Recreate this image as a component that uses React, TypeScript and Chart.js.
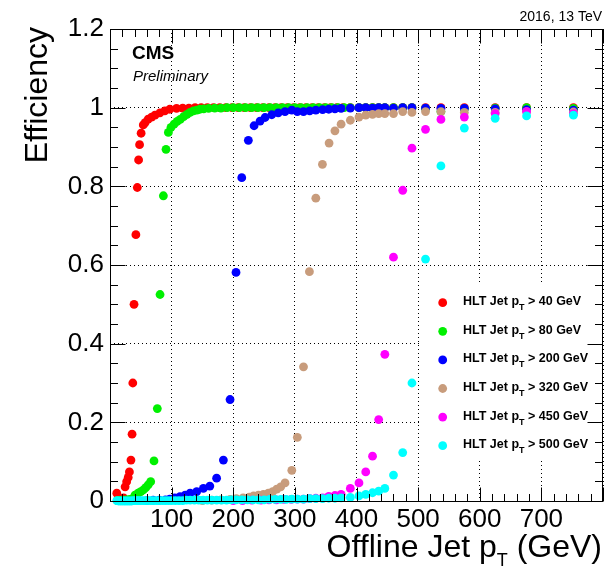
import { useEffect, useRef } from 'react';
import { Chart, registerables } from 'chart.js';

Chart.register(...registerables);

const FONT = "'Liberation Sans', Arial, Helvetica, sans-serif";

// Trigger thresholds (GeV) and marker colours, in drawing order
const THRESHOLDS = [40, 80, 200, 320, 450, 500];
const COLORS = ['#ff0000', '#00f000', '#0000ff', '#c89c7c', '#ff00ff', '#00ffff'];

// HLT Jet pT > 40 GeV
const RED_PT = [
  11, 15, 19, 22, 24.5, 27, 29.5, 31.5, 34, 35.8,
  37, 39, 42, 44.3, 46.4, 48, 50.5, 54, 57, 62,
  67.5, 73, 81, 89, 97, 108, 118, 128, 138, 148,
  158, 168, 178, 188, 198, 208, 218, 228, 238, 248,
  258, 268, 278, 288, 298, 308, 318, 328, 338, 348,
  358, 368, 378, 390, 404, 415, 426, 436, 446, 460,
  475, 490, 512, 537, 575, 625, 676, 752,
];
const RED_EFF = [
  0.02, 0.004, 0.005, 0.008, 0.036, 0.049, 0.06, 0.074, 0.104, 0.17,
  0.30, 0.50, 0.677, 0.797, 0.867, 0.906, 0.935, 0.956, 0.962, 0.971,
  0.976, 0.981, 0.987, 0.992, 0.996, 0.998, 0.999, 0.999, 1, 1,
  1, 1, 1, 1, 1, 1, 1, 1, 1, 1,
  1, 1, 1, 1, 1, 1, 1, 1, 1, 1,
  1, 1, 1, 1, 1, 1, 1, 1, 1, 1,
  1, 1, 1, 1, 1, 1, 1, 1,
];

// HLT Jet pT > 80 GeV
const GREEN_PT = [
  12, 17, 22, 27, 32, 36.5, 40.6, 45.5, 50, 54,
  58, 62, 66, 71.4, 76.8, 81.2, 86.6, 90.9, 94.7, 99,
  104, 109, 114, 119.5, 125, 130, 135.5, 141, 146, 152,
  160, 170, 180, 190, 200, 210, 220, 230, 240, 250,
  260, 270, 280, 290, 300, 310, 320, 330, 340, 350,
  360, 370, 380, 390, 404, 415, 426, 436, 446, 460,
  475, 490, 512, 537, 575, 625, 676, 752,
];
const GREEN_EFF = [
  0.001, 0.002, 0.002, 0.003, 0.004, 0.006, 0.015, 0.02, 0.024, 0.028,
  0.034, 0.041, 0.049, 0.102, 0.235, 0.525, 0.776, 0.894, 0.937, 0.95,
  0.958, 0.965, 0.97, 0.977, 0.983, 0.988, 0.992, 0.994, 0.996, 0.997,
  0.998, 0.999, 0.999, 1, 1, 1, 1, 1, 1, 1,
  1, 1, 1, 1, 1, 1, 1, 1, 1, 1,
  1, 1, 1, 1, 1, 1, 1, 1, 1, 1,
  1, 1, 0.998, 0.99, 0.997, 0.999, 1, 0.998,
];

// HLT Jet pT > 200 GeV
const BLUE_PT = [
  60, 70, 80, 90, 97, 105, 113.6, 122, 130, 140.7,
  151.5, 162, 173, 184, 194.8, 204.5, 213.8, 224.5, 233.8, 243.5,
  251.6, 262.5, 273, 284, 295, 304, 314, 324, 334, 345,
  355, 365, 375, 390, 404, 415, 426, 436, 446, 460,
  475, 490, 512, 537, 575, 625, 676, 752,
];
const BLUE_EFF = [
  0.001, 0.002, 0.002, 0.003, 0.005, 0.008, 0.011, 0.015, 0.02, 0.024,
  0.032, 0.038, 0.058, 0.104, 0.258, 0.581, 0.822, 0.917, 0.954, 0.966,
  0.975, 0.982, 0.987, 0.99, 0.994, 0.99, 0.99, 0.992, 0.994, 0.995,
  0.996, 0.997, 0.998, 0.999, 1, 1, 0.999, 1, 1, 0.999,
  1, 1, 0.999, 0.998, 0.998, 0.997, 0.995, 0.994,
];

// HLT Jet pT > 320 GeV
const BROWN_PT = [
  150, 165, 180, 195, 205, 216, 226, 233, 241, 249,
  257, 264, 270.6, 277, 284, 295, 304, 314, 323.6, 334,
  344.7, 355.5, 365, 375, 390, 404, 415, 426, 436, 446,
  460, 475, 490, 512, 537, 575, 625, 676, 752,
];
const BROWN_EFF = [
  0.001, 0.002, 0.003, 0.004, 0.006, 0.008, 0.01, 0.013, 0.015, 0.017,
  0.02, 0.024, 0.03, 0.036, 0.046, 0.078, 0.162, 0.341, 0.583, 0.77,
  0.856, 0.91, 0.941, 0.958, 0.968, 0.976, 0.981, 0.983, 0.985, 0.985,
  0.985, 0.99, 0.988, 0.99, 0.99, 0.988, 0.988, 0.99, 0.989,
];

// HLT Jet pT > 450 GeV
const MAGENTA_PT = [
  200, 215, 230, 245, 258, 270, 282, 294, 304, 314,
  324, 334, 345, 355, 365, 375, 390, 404, 415, 426,
  436, 446, 460, 475, 490, 512, 537, 575, 625, 676,
  752,
];
const MAGENTA_EFF = [
  0.001, 0.001, 0.002, 0.002, 0.003, 0.003, 0.004, 0.004, 0.005, 0.005,
  0.006, 0.007, 0.008, 0.012, 0.014, 0.017, 0.032, 0.046, 0.074, 0.114,
  0.207, 0.373, 0.62, 0.79, 0.897, 0.945, 0.97, 0.976, 0.985, 0.99,
  0.985,
];

// HLT Jet pT > 500 GeV
const CYAN_PT = [
  11, 14, 17, 20, 23, 26, 29, 32, 35, 38,
  41, 44, 47, 50, 54, 58, 62, 66, 70, 75,
  80, 85, 90, 95, 100, 106, 112, 118, 124, 130,
  137, 144, 151, 158, 165, 173, 181, 189, 197, 205,
  214, 223, 232, 241, 250, 259, 268, 277, 286, 295,
  304, 314, 324, 334, 345, 355, 365, 375, 390, 404,
  415, 426, 436, 446, 460, 475, 490, 512, 537, 575,
  625, 676, 752,
];
const CYAN_EFF = [
  0.001, 0, 0, 0, 0, 0, 0, 0, 0, 0.001,
  0.001, 0.001, 0.001, 0.001, 0.001, 0.001, 0.001, 0.001, 0.001, 0.001,
  0.001, 0.001, 0.001, 0.001, 0.001, 0.001, 0.001, 0.001, 0.002, 0.002,
  0.002, 0.002, 0.002, 0.002, 0.002, 0.002, 0.002, 0.002, 0.003, 0.003,
  0.003, 0.003, 0.003, 0.003, 0.003, 0.004, 0.004, 0.004, 0.004, 0.005,
  0.005, 0.005, 0.006, 0.006, 0.006, 0.007, 0.007, 0.008, 0.009, 0.013,
  0.017, 0.021, 0.025, 0.032, 0.066, 0.123, 0.30, 0.615, 0.852, 0.948,
  0.973, 0.979, 0.981,
];

const SERIES_PT = [RED_PT, GREEN_PT, BLUE_PT, BROWN_PT, MAGENTA_PT, CYAN_PT];
const SERIES_EFF = [RED_EFF, GREEN_EFF, BLUE_EFF, BROWN_EFF, MAGENTA_EFF, CYAN_EFF];

const X_MIN = 0;
const X_MAX = 800;
const Y_MIN = 0;
const Y_MAX = 1.2;

type Parts = [string, string, string];

function drawSubText(
  ctx: CanvasRenderingContext2D,
  x: number,
  y: number,
  parts: Parts,
  font: string,
  subFont: string,
  subDy: number,
  align: 'left' | 'right',
) {
  ctx.save();
  ctx.textAlign = 'left';
  ctx.textBaseline = 'alphabetic';
  ctx.font = font;
  const w0 = ctx.measureText(parts[0]).width;
  const w2 = ctx.measureText(parts[2]).width;
  ctx.font = subFont;
  const w1 = ctx.measureText(parts[1]).width;
  let sx = align === 'right' ? x - (w0 + w1 + w2) : x;
  ctx.font = font;
  ctx.fillText(parts[0], sx, y);
  sx += w0;
  ctx.font = subFont;
  ctx.fillText(parts[1], sx, y + subDy);
  sx += w1;
  ctx.font = font;
  ctx.fillText(parts[2], sx, y);
  ctx.restore();
}

const rootStyle = {
  id: 'rootStyle',
  afterDatasetsDraw(chart: any) {
    const ctx: CanvasRenderingContext2D = chart.ctx;
    const { right } = chart.chartArea;
    ctx.save();
    // legend box (white, no border)
    ctx.fillStyle = '#ffffff';
    ctx.fillRect(422, 284, right - 2 - 422, 460 - 284);
    const rowY0 = 302.7;
    const rowDy = 28.6;
    chart.data.datasets.forEach((ds: any, i: number) => {
      const cy = rowY0 + i * rowDy;
      ctx.fillStyle = ds.backgroundColor;
      ctx.beginPath();
      ctx.arc(442.7, cy, 4.4, 0, Math.PI * 2);
      ctx.fill();
      ctx.fillStyle = '#000';
      drawSubText(
        ctx,
        463,
        cy + 2.4,
        ['HLT Jet p', 'T', ` > ${THRESHOLDS[i]} GeV`],
        `bold 12.5px ${FONT}`,
        `bold 9px ${FONT}`,
        5,
        'left',
      );
    });
    // CMS Preliminary
    ctx.fillStyle = '#000';
    ctx.textAlign = 'left';
    ctx.textBaseline = 'alphabetic';
    ctx.font = `bold 19px ${FONT}`;
    ctx.fillText('CMS', 132, 59);
    ctx.font = `italic 15px ${FONT}`;
    ctx.fillText('Preliminary', 133, 81);
    ctx.restore();
  },
  afterDraw(chart: any) {
    const ctx: CanvasRenderingContext2D = chart.ctx;
    const { left, right, top, bottom } = chart.chartArea;
    const xs = chart.scales.x;
    const ys = chart.scales.y;
    ctx.save();
    ctx.strokeStyle = '#000';
    ctx.lineWidth = 1;
    ctx.setLineDash([]);
    ctx.beginPath();
    const L = Math.round(left) + 0.5;
    const R = Math.round(right) - 0.5;
    const T = Math.round(top) + 0.5;
    const B = Math.round(bottom) + 0.5;
    for (let v = X_MIN; v <= X_MAX; v += 20) {
      const px = Math.round(xs.getPixelForValue(v)) + 0.5;
      const len = v % 100 === 0 ? 14 : 7.5;
      ctx.moveTo(px, B);
      ctx.lineTo(px, B - len);
      ctx.moveTo(px, T);
      ctx.lineTo(px, T + len);
    }
    for (let i = 0; i <= 24; i++) {
      const py = Math.round(ys.getPixelForValue(i * 0.05)) + 0.5;
      const len = i % 4 === 0 ? 15 : 7.5;
      ctx.moveTo(L, py);
      ctx.lineTo(L + len, py);
      ctx.moveTo(R, py);
      ctx.lineTo(R - len, py);
    }
    ctx.stroke();
    ctx.strokeRect(L, T, R - L, B - T);

    // axis titles
    ctx.fillStyle = '#000';
    drawSubText(
      ctx,
      602,
      557,
      ['Offline Jet p', 'T', ' (GeV)'],
      `32px ${FONT}`,
      `18px ${FONT}`,
      9,
      'right',
    );
    ctx.save();
    ctx.translate(47, 27);
    ctx.rotate(-Math.PI / 2);
    ctx.font = `32px ${FONT}`;
    ctx.textAlign = 'right';
    ctx.textBaseline = 'alphabetic';
    ctx.fillText('Efficiency', 0, 0);
    ctx.restore();

    ctx.font = `14px ${FONT}`;
    ctx.textAlign = 'right';
    ctx.textBaseline = 'alphabetic';
    ctx.fillText('2016, 13 TeV', 602, 21);
    ctx.restore();
  },
};

export default function App() {
  const ref = useRef<HTMLCanvasElement>(null);

  useEffect(() => {
    const datasets = SERIES_PT.map((pts, i) => ({
      label: `HLT Jet pT > ${THRESHOLDS[i]} GeV`,
      data: pts.map((x, j) => ({ x, y: SERIES_EFF[i][j] })),
      backgroundColor: COLORS[i],
      borderColor: COLORS[i],
      pointRadius: 4.4,
      pointHoverRadius: 4.4,
      pointBorderWidth: 0,
      showLine: false,
      clip: false as any,
      order: SERIES_PT.length - i,
    }));

    const chart = new Chart(ref.current as HTMLCanvasElement, {
      type: 'scatter',
      data: { datasets },
      options: {
        responsive: false,
        animation: false,
        devicePixelRatio: 1,
        events: [],
        layout: { padding: { left: 0, top: 29, right: 7, bottom: 0 } },
        plugins: {
          legend: { display: false },
          tooltip: { enabled: false },
        },
        scales: {
          x: {
            type: 'linear',
            min: X_MIN,
            max: X_MAX,
            afterFit: (s: any) => {
              s.height = 66;
            },
            border: { display: false, dash: [1, 3] },
            grid: { color: '#000', lineWidth: 1, drawTicks: false },
            ticks: {
              stepSize: 100,
              autoSkip: false,
              maxRotation: 0,
              padding: 3,
              color: '#000',
              font: { family: FONT, size: 26 },
              callback: (v: any) => (v === X_MIN || v === X_MAX ? '' : String(v)),
            },
          },
          y: {
            type: 'linear',
            min: Y_MIN,
            max: Y_MAX,
            afterFit: (s: any) => {
              s.width = 110;
            },
            border: { display: false, dash: [1, 3] },
            grid: { color: '#000', lineWidth: 1, drawTicks: false },
            ticks: {
              stepSize: 0.2,
              padding: 6,
              color: '#000',
              font: { family: FONT, size: 26 },
              callback: (v: any) => String(Math.round(Number(v) * 10) / 10),
            },
          },
        },
      },
      plugins: [rootStyle],
    });
    return () => chart.destroy();
  }, []);

  return (
    <div style={{ position: 'fixed', left: 0, top: 0, width: 610, height: 567, background: '#fff' }}>
      <canvas ref={ref} width={610} height={567} style={{ display: 'block', width: 610, height: 567 }} />
    </div>
  );
}
